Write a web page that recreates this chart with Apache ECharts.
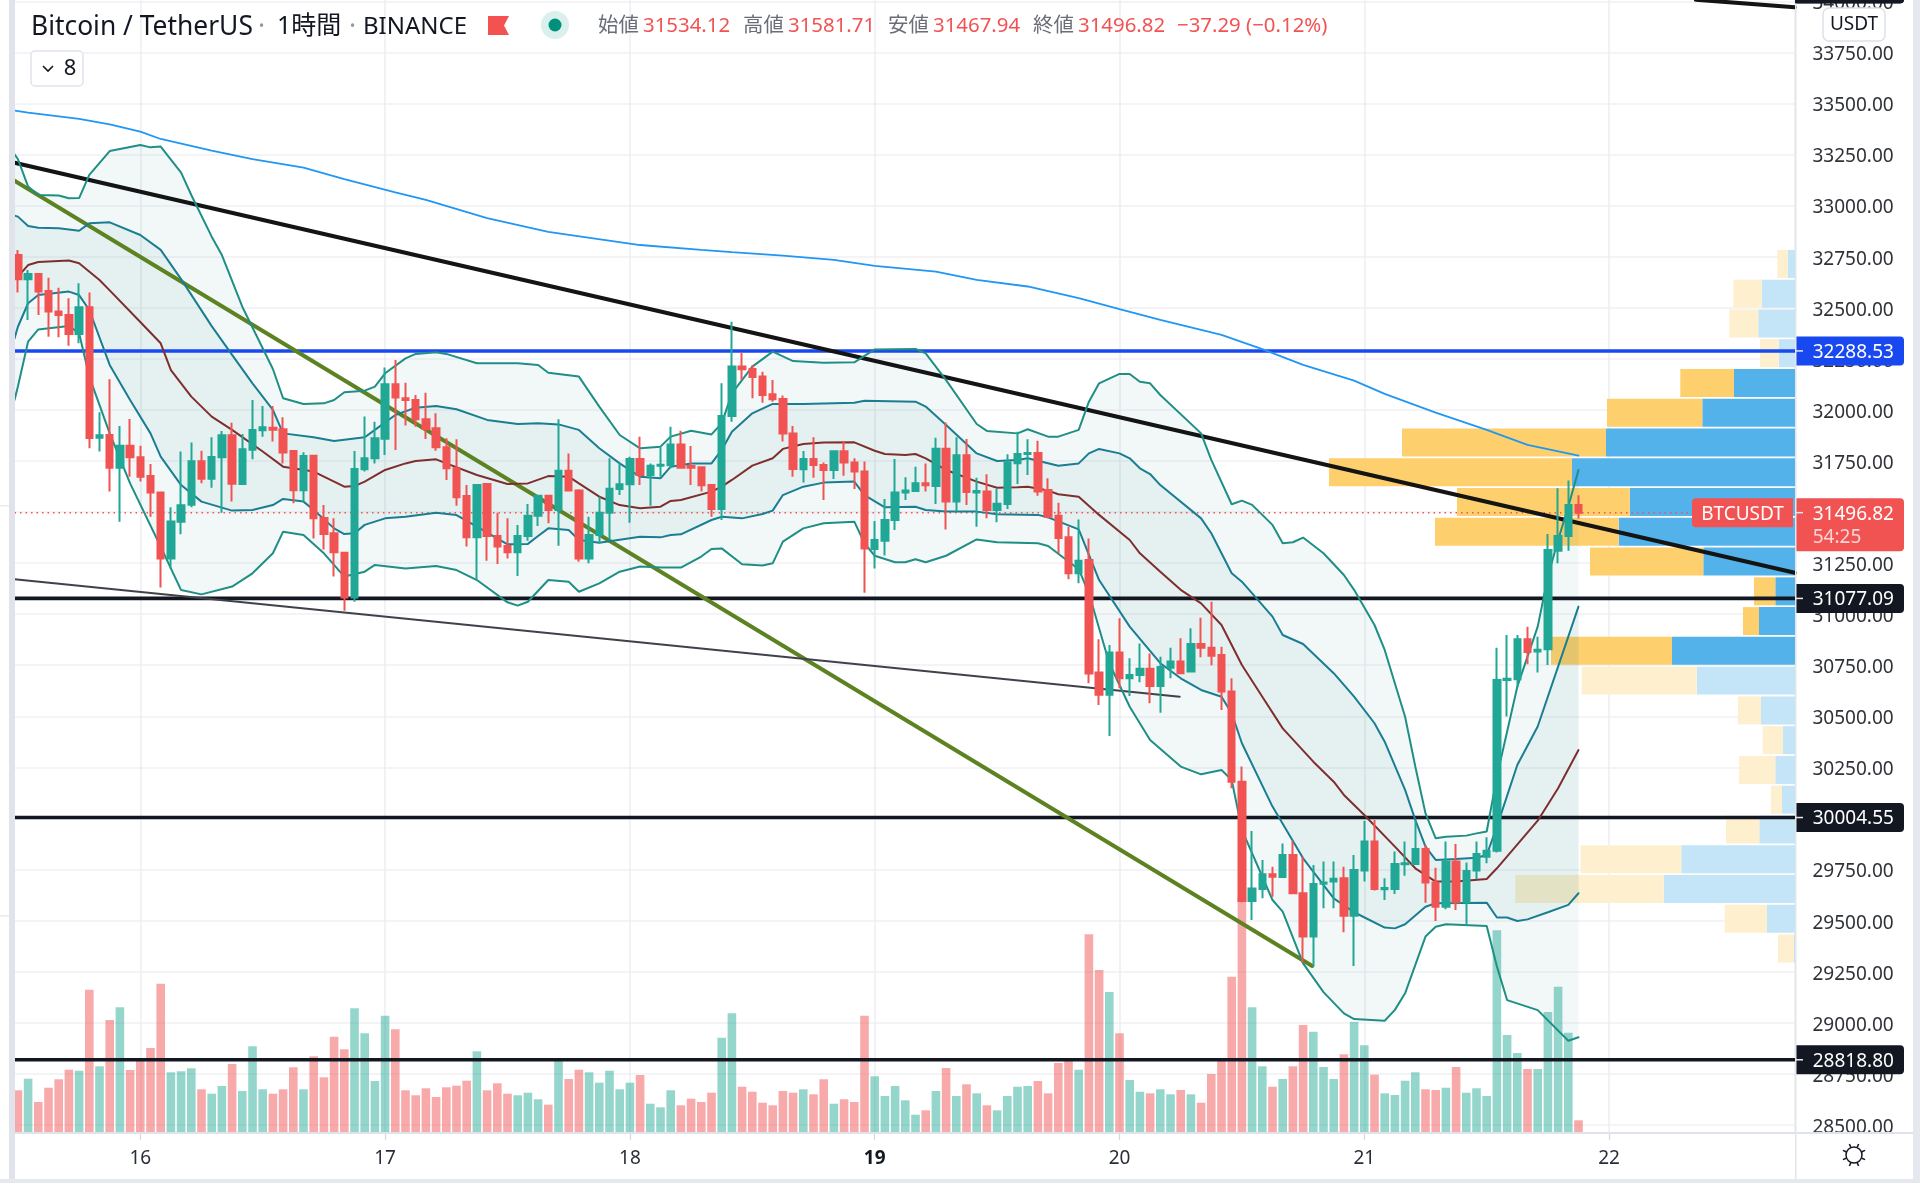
<!DOCTYPE html>
<html><head><meta charset="utf-8">
<style>html,body{margin:0;padding:0;background:#fff}#c{width:1920px;height:1183px}</style>
<script src="https://cdn.jsdelivr.net/npm/echarts@6/dist/echarts.min.js"></script>
</head><body><div id="c"></div>
<script>
// candle values: open, close, low, high (one row per hour)
const candles=[
[32758,32639,32574,32783],[32639,32665,32440,32685],[32665,32579,32465,32665],[32582,32481,32358,32647],[32481,32465,32355,32598],[32465,32372,32314,32546],[32372,32502,32326,32620],[32502,31862,31812,32575],[31864,31876,31796,31988],[31877,31717,31600,32150],
[31717,31825,31453,31921],[31825,31768,31673,31955],[31768,31673,31649,31825],[31676,31595,31477,31735],[31595,31273,31130,31595],[31273,31454,31224,31523],[31453,31533,31391,31796],[31536,31748,31523,31840],[31748,31663,31641,31800],[31663,31769,31619,31866],
[31768,31876,31497,31897],[31876,31639,31551,31937],[31637,31807,31632,31882],[31805,31902,31758,32048],[31900,31915,31869,32019],[31913,31903,31845,32019],[31905,31791,31738,31964],[31799,31606,31543,31804],[31606,31774,31551,31792],[31776,31469,31371,31776],
[31471,31393,31317,31534],[31396,31303,31184,31469],[31301,31082,31017,31301],[31082,31711,31061,31799],[31709,31763,31698,31967],[31763,31861,31738,31942],[31859,32125,31779,32207],[32125,32061,31804,32244],[32057,32048,31923,32133],[32048,31954,31918,32073],
[31954,31906,31858,32084],[31910,31817,31800,31983],[31817,31714,31657,31861],[31714,31572,31531,31856],[31579,31376,31331,31632],[31376,31632,31167,31632],[31637,31383,31262,31641],[31383,31331,31246,31497],[31334,31303,31273,31469],[31303,31383,31187,31437],
[31383,31482,31360,31539],[31482,31580,31432,31583],[31580,31510,31445,31583],[31510,31702,31335,31954],[31702,31605,31600,31787],[31605,31273,31257,31611],[31273,31388,31249,31477],[31388,31497,31347,31575],[31497,31614,31363,31763],[31613,31636,31583,31743],
[31636,31760,31448,31771],[31760,31681,31632,31869],[31681,31727,31531,31738],[31727,31732,31673,31817],[31729,31831,31714,31918],[31831,31717,31714,31898],[31725,31717,31632,31823],[31719,31631,31600,31719],[31632,31515,31477,31632],[31515,31970,31461,32130],
[31970,32212,31942,32432],[32212,32199,32146,32282],[32200,32161,32057,32220],[32163,32073,32035,32187],[32076,32052,32040,32146],[32053,31884,31845,32070],[31885,31711,31673,31921],[31709,31760,31645,31799],[31760,31730,31668,31866],[31730,31706,31559,31742],
[31706,31797,31662,31797],[31797,31742,31678,31848],[31742,31698,31613,31763],[31698,31321,31105,31747],[31319,31363,31224,31456],[31360,31461,31287,31564],[31461,31595,31412,31760],[31595,31605,31559,31670],[31603,31641,31603,31722],[31641,31631,31600,31738],
[31628,31810,31539,31864],[31810,31551,31415,31938],[31551,31778,31502,31866],[31778,31598,31534,31858],[31595,31603,31428,31668],[31600,31510,31469,31685],[31510,31541,31450,31613],[31539,31742,31515,31783],[31739,31784,31637,31893],[31784,31789,31681,31856],
[31789,31600,31580,31849],[31608,31477,31469,31665],[31482,31373,31298,31546],[31376,31200,31171,31428],[31200,31262,31151,31464],[31265,30710,30662,31371],[30714,30605,30556,30877],[30605,30812,30404,30849],[30812,30686,30637,30980],[30686,30702,30600,30784],
[30702,30733,30667,30857],[30733,30649,30564,30808],[30649,30742,30518,30792],[30738,30768,30686,30836],[30768,30711,30707,30882],[30719,30854,30719,30931],[30854,30836,30789,30983],[30836,30797,30750,31061],[30800,30621,30531,30841],[30621,30180,30148,30686],
[30180,29596,29590,30254],[29596,29657,29503,29939],[29655,29727,29609,29797],[29727,29715,29617,29764],[29714,29821,29712,29878],[29821,29634,29630,29890],[29634,29422,29294,29813],[29422,29679,29275,29772],[29681,29687,29560,29789],[29692,29705,29560,29789],
[29707,29524,29443,29764],[29524,29748,29278,29821],[29745,29887,29691,29989],[29887,29655,29647,29993],[29653,29660,29601,29707],[29655,29777,29630,29838],[29776,29781,29720,29887],[29777,29851,29776,29993],[29851,29686,29588,29870],[29686,29568,29498,29759],
[29568,29789,29555,29887],[29789,29590,29552,29875],[29590,29743,29479,29784],[29745,29826,29702,29887],[29813,29842,29781,29908],[29842,30678,29833,30836],[30678,30684,30499,30898],[30681,30877,30642,30898],[30877,30815,30755,30939],[30817,30826,30714,30890],
[30828,31314,30751,31393],[31311,31383,31249,31616],[31383,31535,31311,31654],[31534.12,31496.82,31467.94,31581.71]];
const volumes=[417,533,300,443,527,623,613,1423,657,1120,1247,620,740,840,1483,597,607,637,427,383,460,680,410,857,427,383,427,647,427,757,547,953,827,1237,987,510,1163,1027,417,367,437,350,447,463,513,807,417,487,383,367,393,327,273,740,530,623,597,493,613,427,493,570,283,247,417,267,333,300,393,943,1187,453,403,293,267,410,393,427,377,527,283,327,300,1163,557,360,460,317,173,217,410,640,360,477,387,267,217,360,453,460,510,387,690,733,623,1977,1620,1400,987,520,403,387,427,377,420,377,293,580,717,1553,2350,1247,657,453,530,657,1070,1003,650,530,777,1103,867,573,387,370,513,597,427,420,443,650,393,437,360,2017,970,790,630,630,1200,1453,993,117];
// indicator lines: [candle number, price]
const maLong=[[-0.3,33465],[1,33455],[6,33424],[9,33398],[12,33362],[14,33326],[19,33269],[23,33228],[28,33186],[32,33129],[37,33065],[40,33028],[46,32939],[52,32871],[61,32807],[67,32783],[70,32772],[75,32755],[80,32734],[84,32705],[90,32677],[94,32636],[99,32604],[104,32547],[108,32493],[112,32440],[118,32367],[122,32297],[126,32220],[131,32143],[134,32078],[139,31987],[144,31902],[148,31829],[153,31776]];
const outerUpper=[[-0.33,33251],[0,33228],[1,33093],[2,33052],[4,33049],[5,33036],[6,33037],[7,33150],[9,33267],[12,33297],[13,33285],[14,33289],[16,33161],[17,33052],[19,32848],[20,32758],[22,32505],[25,32200],[26,32057],[28,32029],[30,32032],[31,32048],[32,32086],[34,32094],[35,32114],[36,32179],[38,32252],[39,32274],[41,32282],[42,32274],[45,32228],[49,32228],[51,32220],[52,32182],[55,32163],[57,32016],[59,31877],[61,31812],[63,31820],[64,31869],[66,31898],[68,31880],[69,31934],[70,32081],[72,32212],[74,32285],[76,32239],[79,32231],[82,32233],[84,32296],[88,32298],[89,32277],[91,32146],[94,31931],[95,31897],[98,31885],[99,31905],[101,31869],[102,31869],[104,31902],[105,32040],[106,32130],[108,32176],[109,32176],[110,32138],[111,32130],[112,32073],[116,31885],[117,31755],[119,31538],[120,31556],[121,31535],[123,31437],[124,31347],[125,31352],[126,31375],[128,31298],[130,31192],[131,31119],[133,30947],[134,30825],[136,30498],[137,30254],[138,30025],[139,29903],[140,29911],[142,29916],[143,29927],[144,29936],[145,30205],[147,30645],[149,30939],[150,31184],[151,31363],[152,31527],[153,31706]];
const innerUpper=[[-0.33,32951],[0,32946],[1,32900],[2,32892],[4,32889],[6,32877],[7,32913],[9,32918],[12,32856],[14,32783],[16,32640],[19,32410],[21,32269],[23,32130],[25,32000],[26,31885],[29,31866],[31,31848],[34,31866],[35,31902],[37,31975],[39,32011],[41,32019],[43,32003],[46,31951],[49,31931],[51,31934],[53,31929],[55,31902],[57,31812],[59,31738],[61,31673],[63,31665],[64,31722],[66,31738],[68,31738],[69,31804],[70,31893],[72,31983],[74,32029],[77,32029],[82,32035],[83,32045],[88,32040],[89,32016],[91,31926],[94,31787],[96,31750],[98,31755],[99,31763],[102,31727],[104,31738],[105,31787],[106,31809],[108,31787],[109,31763],[110,31714],[111,31686],[112,31632],[116,31469],[117,31396],[119,31200],[120,31159],[123,30988],[124,30898],[126,30854],[129,30711],[131,30596],[133,30466],[134,30376],[136,30140],[137,29993],[138,29862],[139,29797],[141,29802],[143,29808],[144,29821],[145,29960],[147,30262],[149,30450],[151,30743],[153,31037]];
const midLine=[[0,32652],[1,32709],[2,32724],[5,32731],[6,32718],[8,32636],[9,32585],[12,32430],[14,32326],[15,32195],[17,32065],[19,31967],[21,31902],[24,31796],[26,31722],[29,31698],[32,31624],[33,31627],[34,31649],[36,31706],[38,31738],[39,31750],[41,31758],[42,31738],[45,31681],[48,31637],[50,31640],[52,31676],[54,31673],[55,31640],[57,31575],[59,31534],[61,31518],[63,31526],[64,31554],[65,31559],[68,31600],[69,31624],[70,31657],[72,31727],[74,31763],[75,31809],[77,31833],[79,31840],[82,31841],[84,31800],[85,31784],[87,31779],[88,31784],[89,31763],[91,31706],[94,31649],[96,31619],[98,31621],[99,31624],[101,31605],[102,31587],[104,31575],[106,31486],[109,31363],[110,31298],[112,31208],[114,31119],[116,31053],[118,30947],[120,30751],[122,30596],[124,30441],[127,30278],[129,30180],[130,30115],[132,30017],[135,29862],[137,29756],[139,29691],[141,29691],[144,29704],[145,29756],[149,29989],[151,30148],[153,30335]];
const innerLower=[[-0.33,32350],[0,32407],[1,32522],[2,32562],[5,32579],[6,32562],[7,32489],[9,32220],[11,32048],[13,31885],[14,31771],[16,31632],[18,31551],[21,31507],[23,31510],[25,31534],[26,31564],[28,31551],[29,31510],[31,31420],[32,31392],[33,31396],[34,31437],[36,31469],[38,31477],[41,31497],[43,31485],[45,31428],[48,31342],[50,31344],[51,31383],[52,31420],[54,31412],[55,31363],[57,31350],[61,31379],[63,31376],[64,31388],[65,31391],[68,31461],[69,31477],[71,31469],[73,31490],[74,31507],[75,31583],[77,31624],[79,31644],[82,31649],[83,31583],[85,31523],[88,31526],[89,31510],[91,31502],[94,31502],[96,31489],[100,31486],[101,31474],[104,31415],[106,31167],[109,30939],[112,30760],[114,30686],[116,30629],[118,30596],[119,30515],[120,30368],[123,30058],[126,29805],[129,29609],[131,29541],[134,29466],[135,29462],[136,29482],[138,29568],[139,29585],[144,29588],[145,29515],[146,29515],[147,29498],[148,29506],[150,29541],[152,29577],[153,29634]];
const outerLower=[[-0.33,32048],[0,32114],[1,32334],[2,32394],[5,32411],[6,32375],[7,32163],[9,31885],[11,31640],[14,31330],[16,31118],[18,31097],[21,31135],[23,31200],[25,31298],[26,31404],[28,31388],[30,31298],[32,31184],[34,31208],[35,31241],[38,31224],[41,31236],[43,31216],[45,31167],[48,31058],[49,31042],[50,31061],[52,31167],[54,31159],[55,31110],[57,31151],[59,31208],[61,31233],[63,31228],[65,31228],[67,31282],[68,31319],[69,31322],[71,31244],[73,31238],[74,31249],[75,31355],[77,31420],[79,31445],[82,31453],[83,31347],[84,31286],[86,31254],[87,31254],[88,31269],[89,31254],[91,31286],[94,31366],[96,31352],[100,31347],[101,31334],[104,31220],[105,31102],[107,30760],[109,30547],[111,30384],[114,30254],[116,30216],[118,30237],[119,30188],[120,29944],[123,29601],[124,29544],[126,29291],[128,29150],[130,29046],[131,29018],[134,29010],[135,29063],[136,29144],[138,29422],[139,29470],[140,29482],[144,29474],[145,29275],[146,29111],[149,29062],[152,28912],[153,28929]];
// drawn trend lines: [candle number, price]
const blackTrend=[[-0.33,33210],[174.2,31203]];
const blackTrendTop=[[164.5,34008],[174.2,33971]];
const greenTrend=[[-0.33,33122],[126.9,29278]];
const thinTrend=[[-0.33,31171],[113.9,30596]];
// horizontal levels
const levelBlue=32288.53;
const levelsBlack=[31077.09,30004.55,28818.80];
const lastPrice=31496.82;
// volume profile rows
const profileTop=32783, profileStep=145.7, profileRowSpan=137;
const profileBuy=[7,33.3,36.7,16.3,61,92.7,189,223,165.3,176.3,91.7,19.7,36,123,98.3,34,12,19.7,13,35.7,113.7,131.3,28,1];
const profileSell=[10.7,28.3,29,18.7,53.7,95.3,204,243,172.7,183.7,113.3,21.3,16,121,115,23,20.3,36.3,11,33.3,100.7,148.3,42.3,16];
const valueAreaFirst=4, valueAreaLast=13;
const dayOffset=15;
const headerOHLC=[['始値','31534.12',598,643],['高値','31581.71',743,788],['安値','31467.94',888,933],['終値','31496.82',1033,1078]];
const headerChange='−37.29 (−0.12%)';

const UP='#20a795',DOWN='#f15353',INK='#131722';
const FONT='"Noto Sans","Noto Sans CJK JP",sans-serif';
const T=i=>i+12;               // hours since the first (off-screen) day tick
const XMAX=1899.5/10.2;
const toXY=a=>a.map(d=>[T(d[0]),d[1]]);
const chart=echarts.init(document.getElementById('c'),null,{renderer:'canvas',width:1920,height:1183});

function line(name,pts,color,width,z,extra){
  return Object.assign({name,type:'line',xAxisIndex:0,yAxisIndex:0,data:toXY(pts),symbol:'none',smooth:false,silent:true,z,
    lineStyle:{color,width,cap:'round'},animation:false},extra||{});
}
function band(up,low,fill,z){
  return {type:'custom',xAxisIndex:0,yAxisIndex:0,coordinateSystem:'cartesian2d',data:[[0,0]],z,silent:true,clip:true,
    renderItem(p,api){
      const pts=toXY(up).concat(toXY(low).reverse()).map(d=>api.coord(d));
      return {type:'polygon',shape:{points:pts},style:{fill},silent:true};
    }};
}
const series=[];
// volume profile
series.push({type:'custom',coordinateSystem:'cartesian2d',xAxisIndex:2,yAxisIndex:0,z:1,silent:true,
  data:profileBuy.map((b,k)=>[b,profileTop-k*profileStep,profileSell[k],k]),
  renderItem(p,api){
    const k=api.value(3),b=api.value(0),s=api.value(2),top=api.value(1);
    const strong=k>=valueAreaFirst&&k<=valueAreaLast;
    const a=api.coord([0,top]),c=api.coord([b,top-profileRowSpan]),e=api.coord([b+s,top-profileRowSpan]);
    return {type:'group',children:[
      {type:'rect',shape:{x:c[0],y:a[1],width:a[0]-c[0],height:c[1]-a[1]},style:{fill:strong?'#53b2ea':'#c4e4f7'}},
      {type:'rect',shape:{x:e[0],y:a[1],width:c[0]-e[0],height:c[1]-a[1]},style:{fill:strong?'#fecf6d':'#feefcf'}}
    ]};
  }});
// band fills
series.push(band(outerUpper,outerLower,'rgba(20,130,125,0.055)',2));
series.push(band(innerUpper,innerLower,'rgba(20,130,125,0.055)',2));
// volume
series.push({type:'bar',xAxisIndex:1,yAxisIndex:1,barWidth:8.6,z:3,silent:true,animation:false,
  data:volumes.map((v,i)=>({value:[T(i),v],itemStyle:{color:candles[i][1]>=candles[i][0]?'rgba(32,167,149,0.48)':'rgba(241,83,83,0.5)'}}))});
// trends and levels
series.push(line('blue level',[[-0.33,levelBlue],[174.2,levelBlue]],'#1848f0',3.6,4));
levelsBlack.forEach(v=>series.push(line('level',[[-0.33,v],[174.2,v]],INK,3.6,4)));
series.push(line('last',[[-0.33,lastPrice],[174.2,lastPrice]],'#f15353',1.5,4,{lineStyle:{color:'#f15353',width:1.5,type:[1.5,4]}}));
series.push(line('trend',blackTrend,'#141414',4,4));
series.push(line('trend2',blackTrendTop,'#141414',4,4));
series.push(line('green',greenTrend,'#5c8222',4,4));
series.push(line('thin',thinTrend,'#41414c',2,4));
// indicators
series.push(line('ma',maLong,'#2196f3',1.8,5));
series.push(line('ou',outerUpper,'#1f8f86',2,5));
series.push(line('ol',outerLower,'#1f8f86',2,5));
series.push(line('iu',innerUpper,'#1a7d91',2,5));
series.push(line('il',innerLower,'#1a7d91',2,5));
series.push(line('mid',midLine,'#7f2e2e',2,5));
// candles
series.push({type:'candlestick',xAxisIndex:0,yAxisIndex:0,barWidth:6.8,z:6,silent:true,animation:false,
  data:candles.map((c,i)=>[T(i),c[0],c[1],c[2],c[3]]),
  encode:{x:0,y:[1,2,3,4]},
  itemStyle:{color:UP,color0:DOWN,borderColor:UP,borderColor0:DOWN,borderWidth:2}});
// price tags
const tagPrices=[34060,levelBlue,levelsBlack[0],levelsBlack[1],levelsBlack[2],lastPrice];
const tagColors=[INK,'#1848f0',INK,INK,INK,'#f15353'];
series.push({type:'custom',coordinateSystem:'cartesian2d',xAxisIndex:0,yAxisIndex:0,z:10,silent:true,clip:false,
  data:tagPrices.map((v,i)=>[0,v,i]),
  renderItem(p,api){
    const i=api.value(2),v=api.value(1),y=api.coord([0,v])[1],R=1795,fill=tagColors[i],last=i===tagPrices.length-1;
    const font='19px '+FONT,ty=y+1.5;
    const kids=[
      {type:'rect',shape:{x:R,y:y-14.5,width:109,height:last?53:29,r:[0,4,4,0]},style:{fill}},
      {type:'rect',shape:{x:R,y:y-0.75,width:8,height:1.5},style:{fill:'#e8e8ea'}},
      {type:'text',style:{text:v.toFixed(2),x:1812.7,y:ty,font,fill:'#fff',textAlign:'left',textVerticalAlign:'middle'}}
    ];
    if(last){
      kids.push({type:'rect',shape:{x:1692,y:y-14.5,width:101,height:29,r:[4,0,0,4]},style:{fill}});
      kids.push({type:'text',style:{text:'BTCUSDT',x:1742.5,y:ty,font,fill:'#fff',textAlign:'center',textVerticalAlign:'middle'}});
      kids.push({type:'text',style:{text:'54:25',x:1812.7,y:ty+23.5,font,fill:'#fbd5d4',textAlign:'left',textVerticalAlign:'middle'}});
    }
    return {type:'group',children:kids};
  }});

// chrome
const g=[];
const rect=(x,y,w,h,fill,z)=>g.push({type:'rect',z:z||30,silent:true,shape:{x,y,width:w,height:h},style:{fill}});
const txt=(text,x,y,font,fill,align)=>g.push({type:'text',z:31,silent:true,x,y,style:{text,font,fill,textAlign:align||'left',textVerticalAlign:'middle'}});
rect(0,0,9,1183,'#fff');
rect(9,0,6,1183,'#e0e3eb');
rect(0,505,9,1.5,'#e8eaf0');
rect(0,915,9,1.5,'#e8eaf0');
rect(15,1132,1898,2,'#e0e3eb');
rect(1795,0,1.5,1179,'#e3e5ea');
g.push({type:'rect',z:31,silent:true,shape:{x:1795,y:-5,width:109,height:8.3,r:[0,4,4,0]},style:{fill:INK}});
rect(1913,0,7,1183,'#e6e8f0');
rect(0,1179,1920,4,'#e6e8f0');
const H='26.4px '+FONT;
txt('Bitcoin / TetherUS',31,27,H,INK);
txt('·',258,27,H,'#9598a1');
txt('1時間',277,27,'25px '+FONT,INK);
txt('·',349,27,H,'#9598a1');
txt('BINANCE',363,27,'24px '+FONT,INK);
g.push({type:'polygon',z:31,silent:true,shape:{points:[[488,16],[509,16],[504,25.5],[509,35],[488,35]]},style:{fill:'#f45151'}});
g.push({type:'circle',z:31,silent:true,shape:{cx:555,cy:25,r:14},style:{fill:'#d9f0ed'}});
g.push({type:'circle',z:32,silent:true,shape:{cx:555,cy:25,r:6.5},style:{fill:'#00907c'}});
const V='20.4px '+FONT;
headerOHLC.forEach(r=>{txt(r[0],r[2],26,V,'#6a6d78');txt(r[1],r[3],26,V,'#f15353');});
txt(headerChange,1177,26,V,'#f15353');
g.push({type:'rect',z:31,silent:true,shape:{x:31,y:51,width:52,height:35,r:4},style:{fill:'#fff',stroke:'#e0e3eb',lineWidth:1.5}});
g.push({type:'polyline',z:32,silent:true,shape:{points:[[43,66],[48,71],[53,66]]},style:{stroke:INK,lineWidth:1.6,fill:'none'}});
txt('8',70,69,'22px '+FONT,INK,'center');
g.push({type:'rect',z:31,silent:true,shape:{x:1823,y:8,width:62,height:33,r:6},style:{fill:'#fff',stroke:'#dfe1e8',lineWidth:1.5}});
txt('USDT',1854,25,'19px '+FONT,INK,'center');
g.push({type:'circle',z:31,silent:true,shape:{cx:1854,cy:1155,r:8},style:{fill:'none',stroke:INK,lineWidth:1.5}});
for(let k=0;k<8;k++){const a=k*Math.PI/4+Math.PI/8;
  g.push({type:'line',z:31,silent:true,shape:{x1:1854+Math.cos(a)*8.5,y1:1155+Math.sin(a)*8.5,x2:1854+Math.cos(a)*12,y2:1155+Math.sin(a)*12},style:{stroke:INK,lineWidth:1.5}});}

const gridLine={show:true,lineStyle:{color:'#f0f1f5',width:1.5}};
chart.setOption({
  animation:false,backgroundColor:'#fff',
  grid:[
    {left:-104.5,right:125,top:1.3,bottom:58.1,outerBoundsMode:'none',containLabel:false},
    {left:-104.5,right:125,top:0,bottom:51,outerBoundsMode:'none',containLabel:false}
  ],
  xAxis:[
    {type:'value',gridIndex:0,min:0,max:XMAX,show:false,splitLine:{show:false}},
    {type:'value',gridIndex:1,min:0,max:XMAX,interval:24,
      axisLine:{show:false},axisTick:{show:true,length:8,lineStyle:{color:'#d5d7dd',width:1.2}},
      splitLine:{show:true,lineStyle:{color:'#edeef2',width:1.5}},
      axisLabel:{show:true,margin:17,showMaxLabel:false,showMinLabel:false,color:'#2a2e39',fontFamily:'Noto Sans',fontSize:19,
        formatter:v=>{if(v%24)return '';const d=dayOffset+v/24;return d===19?'{b|19}':String(d);},
        rich:{b:{fontFamily:'Noto Sans',fontSize:19,fontWeight:'bold',color:'#131722'}}}},
    {type:'value',gridIndex:0,min:0,max:1899.5,inverse:true,show:false,splitLine:{show:false}}
  ],
  yAxis:[
    {type:'value',gridIndex:0,position:'right',min:28500,max:34000,interval:250,
      axisLine:{show:false},axisTick:{show:true,length:8,lineStyle:{color:'#d5d7dd',width:1.2}},
      splitLine:gridLine,
      axisLabel:{show:true,margin:17.5,verticalAlign:'top',lineHeight:5,color:'#2f3238',fontFamily:'Noto Sans',fontSize:19,formatter:v=>v.toFixed(2)}},
    {type:'value',gridIndex:1,min:0,max:11320,show:false,splitLine:{show:false}}
  ],
  series,
  graphic:{elements:g}
});
</script></body></html>
